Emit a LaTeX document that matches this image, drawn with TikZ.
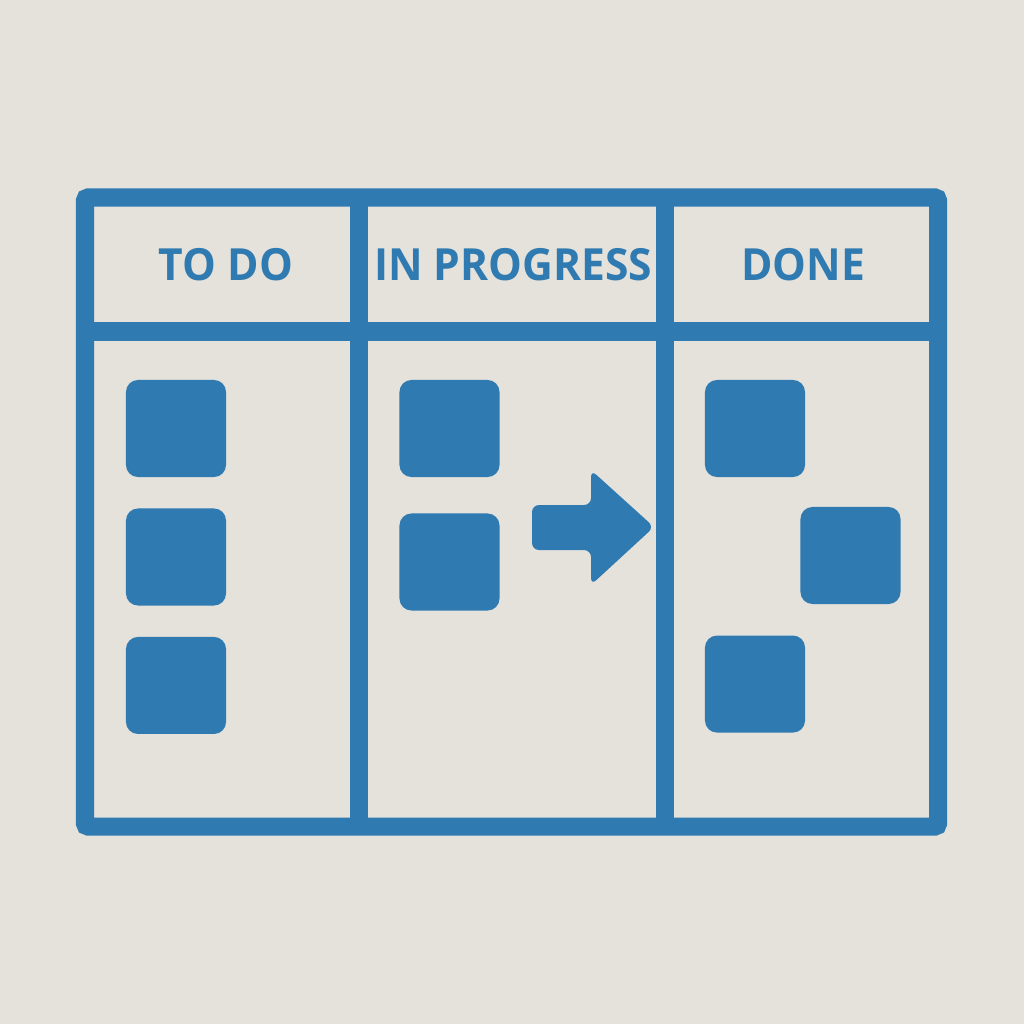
\documentclass[tikz,border=0pt]{standalone}
\usepackage{fontspec}
\setsansfont{Open Sans}[FakeStretch=0.96]
\usetikzlibrary{positioning}

\definecolor{boardblue}{RGB}{47,123,177}
\definecolor{paper}{RGB}{229,225,219}

\begin{document}
\begin{tikzpicture}[x=0.01cm,y=-0.01cm,line join=miter,
                    font=\sffamily\bfseries\fontsize{12.6pt}{15pt}\selectfont]
  \tikzstyle{card}=[fill=boardblue,rounded corners=0.12cm,inner sep=0pt,
                    minimum width=1cm,minimum height=0.97cm]
  \tikzstyle{title}=[text=boardblue,inner sep=0pt]
  \tikzstyle{frame}=[draw=boardblue,line width=0.18cm]

  % paper
  \fill[paper] (0,0) rectangle (1024,1024);
  \useasboundingbox (0,0) rectangle (1024,1024);

  % board
  \draw[frame,rounded corners=0.03cm] (85,197.5) rectangle (938,826.5);
  \draw[frame] (85,331.5) -- (938,331.5);
  \draw[frame] (359,197.5) -- (359,826.5);
  \draw[frame] (665,197.5) -- (665,826.5);

  % headers
  \node[title] (T) at (226,265) {TO DO};
  \node[title] (P) at (513,265) {IN PROGRESS};
  \node[title] (D) at (803,265) {DONE};

  % cards
  \node[card] (T1) at (176,428.5) {};
  \node[card] (T2) [below=0.3cm of T1] {};
  \node[card] (T3) [below=0.3cm of T2] {};

  \node[card] (P1) at (449.5,428.5) {};
  \node[card] (P2) [below=0.35cm of P1] {};

  \node[card] (D1) at (755,428.5) {};
  \node[card] (D2) at (850.5,555.5) {};
  \node[card] (D3) [below=1.57cm of D1] {};

  % move arrow
  \fill[boardblue,rounded corners=0.07cm]
    (532,505) -- (591,505) -- (591,470) -- (654,527) -- (591,585)
    -- (591,550) -- (532,550) -- cycle;
\end{tikzpicture}
\end{document}
